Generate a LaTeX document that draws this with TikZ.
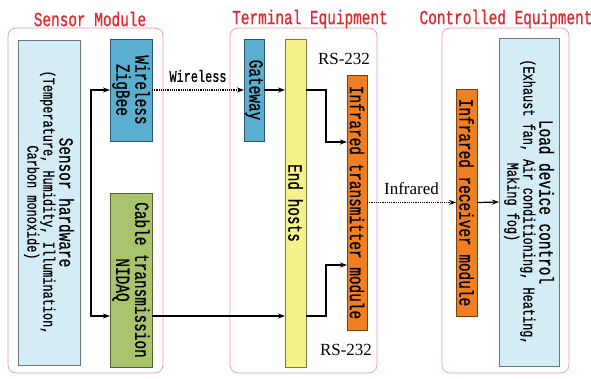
\documentclass[tikz,border=0pt]{standalone}
\usepackage{fontspec}
\usepackage{xcolor}
\usepackage{tikz}
\usetikzlibrary{shapes,arrows.meta,positioning,calc}

\newfontfamily\monofam[FakeStretch=0.72,FakeBold=0.7]{Liberation Mono}
\newfontfamily\seriffam{Liberation Serif}
\newcommand{\boxbig}{\monofam\fontsize{20}{19}\selectfont}
\newcommand{\boxsmall}{\monofam\fontsize{16.5}{16}\selectfont}

\definecolor{skyfill}{HTML}{D4ECF5}
\definecolor{tealfill}{HTML}{5AAECF}
\definecolor{olivefill}{HTML}{A9C46D}
\definecolor{lemonfill}{HTML}{F5F28A}
\definecolor{orangefill}{HTML}{EF7F22}
\definecolor{grpred}{HTML}{E89AA2}
\definecolor{titlered}{HTML}{E0282E}

\begin{document}
\begin{tikzpicture}[
    x=1pt, y=-1pt,
    grp/.style={rectangle, draw=grpred, line width=0.7pt, rounded corners=8pt},
    ttl/.style={text=titlered, font=\boxbig},
    cell/.style={rectangle, draw=#1!50!black, fill=#1, line width=0.8pt, rotate=-90, align=center, inner sep=1pt, outer sep=0pt, font=\boxbig},
    lbl/.style={font=\seriffam\fontsize{17}{17}\selectfont},
    arr/.style={-{Stealth[length=7pt,width=5pt]}, line width=1.2pt},
    darr/.style={-{Stealth[length=7pt,width=5pt]}, line width=1.2pt, densely dotted}
]
    \useasboundingbox (0,0) rectangle (591,379);

    \node [grp, minimum width=155pt, minimum height=345pt] (sensormod) at (85.5,200.5) {};
    \node [grp, minimum width=147pt, minimum height=345pt] (termeq) at (303.5,200.5) {};
    \node [grp, minimum width=127pt, minimum height=345pt] (ctrleq) at (505.5,200.5) {};

    \node [ttl] (sensorttl) at (90,19) {Sensor Module};
    \node [ttl] (termttl) at (310,19) {Terminal Equipment};
    \node [ttl] (ctrlttl) at (506,19) {Controlled Equipment};

    \node [cell=skyfill, minimum width=325pt, minimum height=62pt, font=\boxsmall] (hw) at (49,202.5)
        {{\boxbig Sensor hardware}\\(Temperature, Humidity, Illumination,\\Carbon monoxide)};
    \node [cell=tealfill, minimum width=102pt, minimum height=42pt] (zig) at (131,90) {Wireless\\ZigBee};
    \node [cell=olivefill, minimum width=174pt, minimum height=42pt] (cable) at (131,280) {Cable transmission\\NIDAQ};
    \node [cell=tealfill, minimum width=102pt, minimum height=20pt] (gate) at (254,90) {Gateway};
    \node [cell=lemonfill, minimum width=328pt, minimum height=21pt] (ehost) at (295.5,203) {End hosts};
    \node [cell=orangefill, minimum width=255pt, minimum height=20pt] (tx) at (357,202.5) {Infrared transmitter module};
    \node [cell=orangefill, minimum width=227pt, minimum height=21pt] (rx) at (466.5,202.5) {Infrared receiver module};
    \node [cell=skyfill, minimum width=328pt, minimum height=60pt, font=\boxsmall] (load) at (529,202)
        {{\boxbig Load device control}\\(Exhaust fan, Air conditioning, Heating,\\Making fog)};

    \node [lbl] (rstop) at (344,59) {RS-232};
    \node [lbl] (rsbot) at (346,349.5) {RS-232};

    \coordinate (split) at (91,203);
    \coordinate (highrow) at (0,90);
    \coordinate (lowrow) at (0,316);
    \coordinate (txhigh) at (0,142);
    \coordinate (txlow) at (0,265);

    \draw [arr] (split) |- (zig.south);
    \draw [arr] (split) |- (cable.south |- lowrow);
    \draw [darr] (zig.north) -- (gate.south)
        node [midway, above=4pt, font=\monofam\fontsize{16.5}{16}\selectfont] {Wireless};
    \draw [arr] (gate.north) -- (ehost.south |- highrow);
    \draw [arr] (cable.north |- lowrow) -- (ehost.south |- lowrow);
    \draw [arr] (ehost.north |- highrow) -- ++(20,0) |- (tx.south |- txhigh);
    \draw [arr] (ehost.north |- lowrow) -- ++(20,0) |- (tx.south |- txlow);
    \draw [darr] (tx.north) -- (rx.south) node [midway, above=4pt, lbl] {Infrared};
    \draw [arr] (rx.north) -- (load.south);
\end{tikzpicture}
\end{document}
